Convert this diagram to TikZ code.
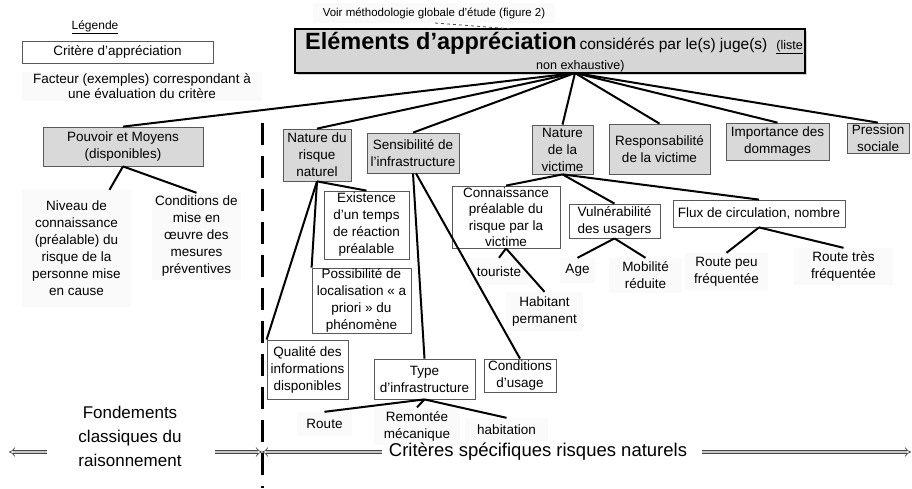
\documentclass[tikz,border=0pt]{standalone}
\usepackage{fontspec}
\setmainfont{Liberation Sans}
\usetikzlibrary{arrows.meta,shadows}
\newcommand\bxf{\fontsize{13.5}{17}\selectfont}
\begin{document}
\begin{tikzpicture}[x=1pt,y=-1pt,
  cat/.style={draw=black!65, fill=gray!30, line width=0.8pt, align=center, inner sep=0pt, font=\bxf},
  crit/.style={draw=black!65, fill=white, line width=0.8pt, align=center, inner sep=0pt, font=\bxf},
  fac/.style={fill=gray!4, align=center, inner sep=0pt, font=\bxf},
  link/.style={line width=2pt, black},
  bigarrow/.style={draw=gray!55!black, double=gray!45, double distance=2.6pt, line width=0.7pt, -{Implies}},
]
\useasboundingbox (0,0) rectangle (912,488);
\fill[white] (0,0) rectangle (912,488);

% legend
\node[font=\fontsize{12}{14}\selectfont, inner sep=0pt] (leg) at (95,27) {\underline{Légende}};
\node[crit, minimum width=191pt, minimum height=22pt] (legbox) at (117.5,52) {Critère d’appréciation};
\node[fac, minimum width=240pt, minimum height=29pt, font=\fontsize{13.5}{14.5}\selectfont] (legfac) at (142,86) {Facteur (exemples) correspondant à\\une évaluation du critère};

% top
\node[fill=gray!4, minimum width=242pt, minimum height=20pt, inner sep=0pt, font=\fontsize{11.5}{13}\selectfont] (voir) at (434,13) {Voir méthodologie globale d’étude (figure 2)};
\node[draw=black, line width=1.3pt, fill=gray!32, minimum width=510pt, minimum height=44pt, inner sep=0pt,
      drop shadow={opacity=0.35, shadow xshift=2pt, shadow yshift=-2pt}] (main) at (550,51) {};
\node[anchor=base west, inner sep=0pt] (t1) at (305,49) {{\fontsize{23.5}{25}\selectfont\bfseries Eléments d’appréciation} {\fontsize{15.5}{17}\selectfont considérés par le(s) juge(s)}\hspace{9pt}{\fontsize{12.5}{14}\selectfont\underline{(liste}}};
\node[anchor=base west, inner sep=0pt, font=\fontsize{12.5}{14}\selectfont] (t2) at (536,69) {\underline{non exhaustive)}};
\draw[dashed, gray!60!black, line width=0.8pt] (435,23) -- (513,29);
\coordinate (root) at (575,73);

% categories
\node[cat, minimum width=160pt, minimum height=39pt] (pm) at (123,146.5) {Pouvoir et Moyens\\(disponibles)};
\node[cat, minimum width=68pt, minimum height=52pt] (nrn) at (317,155) {Nature du\\risque\\naturel};
\node[cat, minimum width=92pt, minimum height=40pt] (sens) at (413,153) {Sensibilité de\\l’infrastructure};
\node[cat, minimum width=61pt, minimum height=49pt] (nv) at (562.5,149.5) {Nature\\de la\\victime};
\node[cat, minimum width=101pt, minimum height=50pt] (resp) at (659.5,149) {Responsabilité\\de la victime};
\node[cat, minimum width=103pt, minimum height=37pt] (imp) at (777.5,141.5) {Importance des\\dommages};
\node[cat, minimum width=62pt, minimum height=30pt] (pres) at (878,138) {Pression\\sociale};

\foreach \n in {pm,nrn,sens,nv,resp,imp,pres} \draw[link] (root) -- (\n.north);

% criteria boxes
\node[crit, minimum width=85pt, minimum height=68pt] (ex) at (366.5,225) {Existence\\d’un temps\\de réaction\\préalable};
\node[crit, minimum width=99pt, minimum height=65pt] (pos) at (361.5,300.5) {Possibilité de\\localisation «~a\\priori »~du\\phénomène};
\node[crit, minimum width=81pt, minimum height=59pt] (qual) at (307.5,369.5) {Qualité des\\informations\\disponibles};
\node[crit, minimum width=101pt, minimum height=40pt] (type) at (424.5,379) {Type\\d’infrastructure};
\node[crit, minimum width=72pt, minimum height=33pt] (cond) at (520,375.5) {Conditions\\d’usage};
\node[crit, minimum width=108pt, minimum height=62pt, font=\fontsize{13.5}{16.5}\selectfont] (conn) at (506,217) {Connaissance\\préalable du\\risque par la\\victime};
\node[crit, minimum width=91pt, minimum height=34pt] (vul) at (614.5,221) {Vulnérabilité\\des usagers};
\node[crit, minimum width=172pt, minimum height=27pt] (flux) at (759,213.5) {Flux de circulation, nombre};

% factors
\node[fac, minimum width=109pt, minimum height=117pt] (niv) at (76.5,248.5) {Niveau de\\connaissance\\(préalable) du\\risque de la\\personne mise\\en cause};
\node[fac, minimum width=89pt, minimum height=87pt] (condm) at (196.5,236.5) {Conditions de\\mise en\\œuvre des\\mesures\\préventives};
\node[fac, minimum width=58pt, minimum height=27pt] (tour) at (499,271.5) {touriste};
\node[fac, minimum width=77pt, minimum height=39pt] (hab) at (544.5,311.5) {Habitant\\permanent};
\node[fac, minimum width=35pt, minimum height=25pt] (age) at (577.5,270.5) {Age};
\node[fac, minimum width=73pt, minimum height=35pt] (mob) at (645.5,275.5) {Mobilité\\réduite};
\node[fac, minimum width=83pt, minimum height=37pt] (rpf) at (726.5,271.5) {Route peu\\fréquentée};
\node[fac, minimum width=99pt, minimum height=37pt] (rtf) at (843.5,266.5) {Route très\\fréquentée};
\node[fac, minimum width=55pt, minimum height=24pt] (route) at (324.5,424) {Route};
\node[fac, minimum width=86pt, minimum height=37pt] (rem) at (417,426) {Remontée\\mécanique};
\node[fac, minimum width=83pt, minimum height=23pt] (habit) at (506.5,429.5) {habitation};

% connectors
\draw[link] (pm.south) -- ([xshift=33pt]niv.north);
\draw[link] (pm.south) -- (condm.north);
\draw[link] (nrn.south) -- (ex.north);
\draw[link] (nrn.south) -- (pos.north west);
\draw[link] (nrn.south) -- (qual.north west);
\draw[link] (sens.south) -- (type.north);
\draw[link] ([xshift=3pt]sens.south) -- (cond.north);
\draw[link] (type.south) -- (route.north);
\draw[link] (type.south) -- (rem.north);
\draw[link] (type.south) -- (habit.north);
\draw[link] (nv.south) -- (conn.north);
\draw[link] (nv.south) -- (vul.north);
\draw[link] (nv.south) -- (flux.north);
\draw[link] (conn.south) -- (tour.north);
\draw[link] (conn.south) -- (hab.north);
\draw[link] (vul.south) -- (age.north);
\draw[link] (vul.south) -- (mob.north);
\draw[link] (flux.south) -- (rpf.north);
\draw[link] (flux.south) -- (rtf.north);

% separator
\draw[line width=3pt, dash pattern=on 22pt off 11pt] (262,123) -- (262,488);

% bottom
\node[align=center, inner sep=0pt, font=\fontsize{17}{24}\selectfont] (fond) at (130,436) {Fondements\\classiques du\\raisonnement};
\node[inner sep=0pt, font=\fontsize{18.5}{20}\selectfont] (crs) at (538,452) {Critères spécifiques risques naturels};
\coordinate (sep) at (262,452);
\coordinate (a1s) at (47,452);
\coordinate (a1e) at (9,452);
\coordinate (a2s) at (215,452);
\coordinate (a3s) at (382,452);
\coordinate (a4s) at (702,452);
\coordinate (a4e) at (911,452);
\draw[bigarrow] (a1s) -- (a1e);
\draw[bigarrow] (a2s) -- (sep);
\draw[bigarrow] (a3s) -- (sep);
\draw[bigarrow] (a4s) -- (a4e);
\end{tikzpicture}
\end{document}
